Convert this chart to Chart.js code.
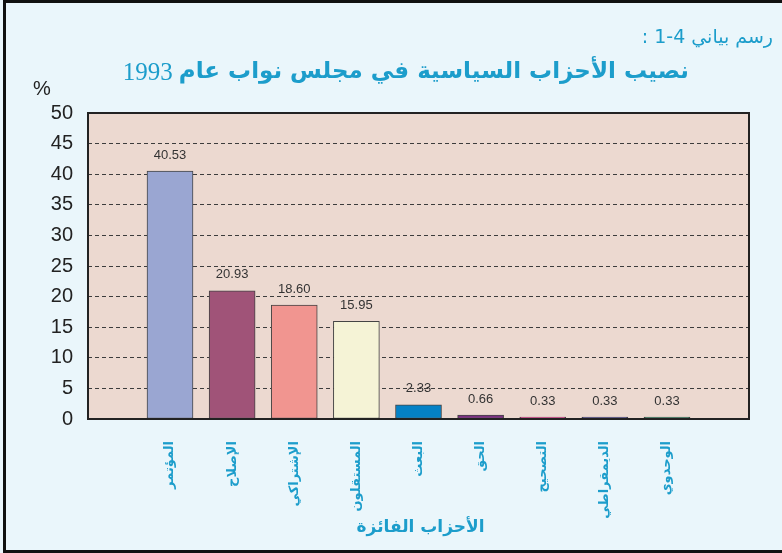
<!DOCTYPE html>
<html>
<head>
<meta charset="utf-8">
<script src="https://cdn.jsdelivr.net/npm/chart.js@4"></script>
<style>
  body { margin: 0; background: #eaf6fb; }
</style>
</head>
<body>
<canvas id="partiesChart" width="782" height="553"></canvas>
<script>
// parliament 1993 seat shares
const parties = ["المؤتمر", "الإصلاح", "الإشتراكي", "المستقلون", "البعث", "الحق", "التصحيح", "الديمقراطي", "الوحدوي"];
const seatShares = [40.53, 20.93, 18.6, 15.95, 2.33, 0.66, 0.33, 0.33, 0.33];
const barColors = ["#9aa6d2", "#a05378", "#f19590", "#f5f3d6", "#0481c6", "#7b2f82", "#e8208a", "#2e2f82", "#0e6f4a"];

const figureLabel = "رسم بياني 4-1 :";
const titleText = "نصيب الأحزاب السياسية في مجلس نواب عام";
const titleYear = "1993";
const xTitle = "الأحزاب الفائزة";
const yUnit = "%";

const blue = "#1c9dcb";

const pageBackground = {
  id: "pageBackground",
  beforeDraw(chart) {
    const { ctx, chartArea: { left, top, right, bottom } } = chart;
    ctx.save();
    ctx.fillStyle = "#eaf6fb";
    ctx.fillRect(0, 0, chart.width, chart.height);
    ctx.fillStyle = "#ecd9d0";
    ctx.fillRect(left, top, right - left, bottom - top);
    // page frame
    ctx.strokeStyle = "#111";
    ctx.lineWidth = 3;
    ctx.beginPath();
    ctx.moveTo(chart.width + 5, 1.5);
    ctx.lineTo(4.5, 1.5);
    ctx.lineTo(4.5, chart.height - 1.5);
    ctx.lineTo(chart.width + 5, chart.height - 1.5);
    ctx.stroke();
    ctx.restore();
  },
};

const headerText = {
  id: "headerText",
  afterDraw(chart) {
    const { ctx, chartArea: { left, right } } = chart;
    ctx.save();
    ctx.fillStyle = blue;
    ctx.direction = "rtl";
    ctx.textAlign = "right";
    ctx.textBaseline = "middle";
    ctx.font = "19px 'DejaVu Sans'";
    ctx.fillText(figureLabel, 773, 38);

    ctx.font = "bold 23px 'DejaVu Sans'";
    ctx.fillText(titleText, 689, 72);
    const w = ctx.measureText(titleText).width;
    ctx.direction = "ltr";
    ctx.font = "25px 'Liberation Serif'";
    ctx.fillText(titleYear, 689 - w - 6, 73);

    ctx.direction = "rtl";
    ctx.textAlign = "center";
    ctx.font = "bold 17px 'DejaVu Sans'";
    ctx.fillText(xTitle, (left + right) / 2 + 2, 528);

    ctx.fillStyle = "#222";
    ctx.direction = "ltr";
    ctx.font = "20px 'Liberation Sans'";
    ctx.fillText(yUnit, 42, 89);
    ctx.restore();
  },
};

const frameAndValues = {
  id: "frameAndValues",
  afterDatasetsDraw(chart) {
    const { ctx, chartArea: { left, top, right, bottom } } = chart;
    ctx.save();
    ctx.strokeStyle = "#222";
    ctx.lineWidth = 2;
    ctx.strokeRect(left, top, right - left, bottom - top);

    ctx.fillStyle = "#333";
    ctx.font = "13px 'Liberation Sans'";
    ctx.textAlign = "center";
    ctx.textBaseline = "middle";
    chart.getDatasetMeta(0).data.forEach((bar, i) => {
      ctx.fillText(seatShares[i].toFixed(2), bar.x, bar.y - 16);
    });
    ctx.restore();
  },
};

new Chart(document.getElementById("partiesChart"), {
  type: "bar",
  data: {
    datasets: [
      {
        data: seatShares.map((v, i) => ({ x: i, y: v })),
        backgroundColor: barColors,
        borderColor: "#444",
        borderWidth: 1,
        borderSkipped: false,
        barThickness: 46,
      },
    ],
  },
  options: {
    responsive: false,
    animation: false,
    layout: {
      padding: { top: 113, right: 33, bottom: 0, left: 0 },
    },
    scales: {
      x: {
        type: "linear",
        offset: false,
        min: -1.32,
        max: 9.32,
        afterBuildTicks: (axis) => {
          axis.ticks = parties.map((p, i) => ({ value: i }));
        },
        afterFit: (axis) => {
          axis.height = 134;
        },
        grid: { display: false, offset: false },
        border: { display: false },
        ticks: {
          autoSkip: false,
          minRotation: 90,
          maxRotation: 90,
          padding: 14,
          color: blue,
          font: { family: "'DejaVu Sans'", size: 13, weight: "bold" },
          callback: (val) => parties[val],
        },
      },
      y: {
        min: 0,
        max: 50,
        afterFit: (axis) => {
          axis.width = 88;
        },
        grid: {
          color: "#3c3c3c",
          drawTicks: false,
        },
        border: { display: false, dash: [4, 3] },
        ticks: {
          stepSize: 5,
          padding: 15,
          color: "#222",
          font: { family: "'Liberation Sans'", size: 20 },
        },
      },
    },
    plugins: {
      legend: { display: false },
      tooltip: { enabled: false },
    },
  },
  plugins: [pageBackground, headerText, frameAndValues],
});
</script>
</body>
</html>
